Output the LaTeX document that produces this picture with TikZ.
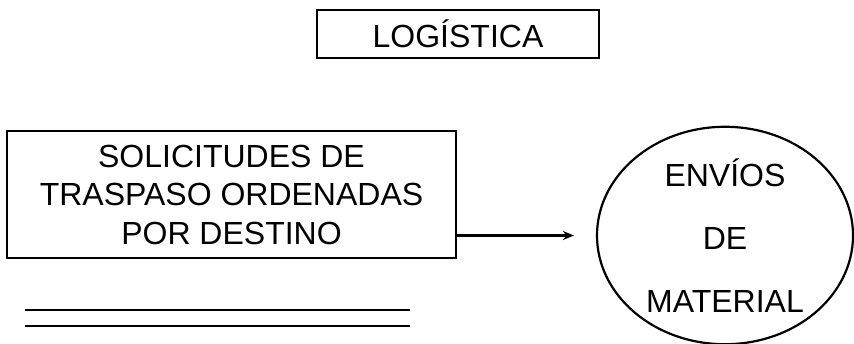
\documentclass[tikz,border=0pt]{standalone}
\usepackage{fontspec}
\setmainfont{Liberation Sans}
\usetikzlibrary{shapes.geometric, arrows.meta}

\begin{document}
\begin{tikzpicture}[x=1pt, y=-1pt, >={Stealth[length=11pt,width=9pt]},
  box/.style={draw, line width=2.2pt, inner sep=0pt},
  bigtxt/.style={font=\fontsize{32}{38.5}\selectfont, align=center}]
  \useasboundingbox (0,0) rectangle (854,343);
  % title
  \node[box, bigtxt, minimum width=282pt, minimum height=48pt] (title) at (458,34) {LOGÍSTICA};
  % requests box
  \node[box, bigtxt, minimum width=449pt, minimum height=127pt] (solic) at (231.5,194.5)
    {SOLICITUDES DE\\TRASPASO ORDENADAS\\POR DESTINO};
  % shipments ellipse
  \node[box, ellipse, font=\fontsize{32}{63}\selectfont, align=center,
    minimum width=256pt, minimum height=209pt] (envios) at (725,235.5)
    {ENVÍOS\\DE\\MATERIAL};
  % arrow
  \draw[->, line width=2.2pt, shorten >=22pt] (solic.east |- envios.west) -- (envios.west);
  % double rule
  \coordinate (r1a) at (25,310);
  \coordinate (r1b) at (410,310);
  \coordinate (r2a) at (25,326);
  \coordinate (r2b) at (410,326);
  \draw[line width=2.2pt] (r1a) -- (r1b);
  \draw[line width=2.2pt] (r2a) -- (r2b);
\end{tikzpicture}
\end{document}
